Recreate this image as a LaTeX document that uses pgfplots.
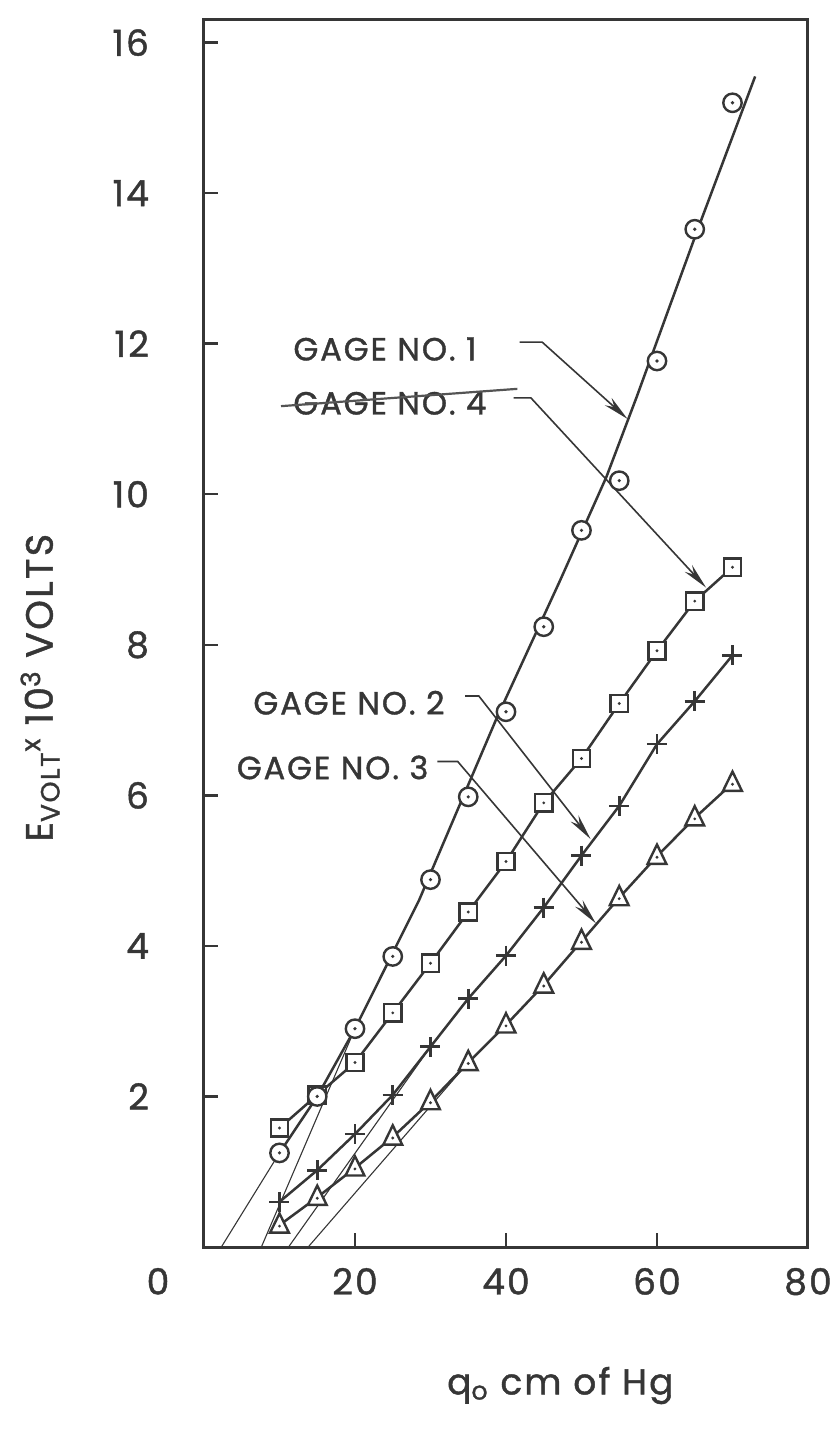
\documentclass[border=0pt]{standalone}
\usepackage{pgfplots}
\pgfplotsset{compat=1.18}
\usetikzlibrary{arrows.meta}
\usepackage{fontspec}
\setmainfont[LetterSpace=6, FakeBold=1.2]{Poppins}
\definecolor{ink}{HTML}{363636}

\pgfdeclareplotmark{odot}{%
  \pgfsetfillcolor{white}%
  \pgfpathcircle{\pgfpointorigin}{\pgfplotmarksize}%
  \pgfusepathqfillstroke
  \pgfsetfillcolor{ink}%
  \pgfpathcircle{\pgfpointorigin}{0.9pt}%
  \pgfusepathqfill}
\pgfdeclareplotmark{sqdot}{%
  \pgfsetfillcolor{white}%
  \pgfpathrectangle{\pgfpoint{-\pgfplotmarksize}{-\pgfplotmarksize}}{\pgfpoint{2\pgfplotmarksize}{2\pgfplotmarksize}}%
  \pgfusepathqfillstroke
  \pgfsetfillcolor{ink}%
  \pgfpathcircle{\pgfpointorigin}{0.8pt}%
  \pgfusepathqfill}
\pgfdeclareplotmark{tridot}{%
  \pgfsetfillcolor{white}%
  \pgfpathmoveto{\pgfpoint{0pt}{1.25\pgfplotmarksize}}%
  \pgfpathlineto{\pgfpoint{-\pgfplotmarksize}{-0.8\pgfplotmarksize}}%
  \pgfpathlineto{\pgfpoint{\pgfplotmarksize}{-0.8\pgfplotmarksize}}%
  \pgfpathclose
  \pgfusepathqfillstroke
  \pgfsetfillcolor{ink}%
  \pgfpathcircle{\pgfpoint{0pt}{-0.1\pgfplotmarksize}}{0.8pt}%
  \pgfusepathqfill}

\pgfplotstableread{
x y
10 1.25
15 2.00
20 2.90
25 3.86
30 4.88
35 5.98
40 7.11
45 8.24
50 9.52
55 10.18
60 11.77
65 13.52
70 15.20
}\gageone
\pgfplotstableread{
x y
10 1.58
15 2.02
20 2.45
25 3.11
30 3.77
35 4.45
40 5.12
45 5.90
50 6.49
55 7.22
60 7.92
65 8.58
70 9.03
}\gagefour
\pgfplotstableread{
x y
10 0.60
15 1.02
20 1.50
25 2.02
30 2.66
35 3.30
40 3.87
45 4.51
50 5.20
55 5.86
60 6.68
65 7.25
70 7.86
}\gagetwo
\pgfplotstableread{
x y
10 0.29
15 0.66
20 1.05
25 1.46
30 1.93
35 2.45
40 2.95
45 3.48
50 4.06
55 4.64
60 5.19
65 5.70
70 6.16
}\gagethree

\newcommand{\labfont}{\fontsize{16}{18}\selectfont}
\newcommand{\tickfont}{\fontsize{18}{20}\selectfont}
\newcommand{\ylabfont}{\fontsize{19}{22}\selectfont}

\begin{document}
\begin{tikzpicture}
\begin{axis}[
  width=302pt, height=613.5pt, scale only axis,
  xmin=0, xmax=80, ymin=0, ymax=16.3,
  clip=false,
  axis line style={ink, line width=1.5pt},
  tick align=inside, xtick pos=bottom, ytick pos=left,
  xtick={20,40,60,80}, ytick={2,4,6,8,10,12,14,16},
  extra x ticks={0},
  extra x tick style={xticklabel style={xshift=-23pt}},
  major tick length=7pt,
  tick style={ink, line width=1.2pt},
  xticklabel style={font=\tickfont, text=ink, yshift=-7pt},
  yticklabel style={font=\tickfont, text=ink, xshift=-24pt},
  /pgf/number format/assume math mode=true,
]
% thin extrapolation lines
\addplot[ink, line width=0.55pt] coordinates {(2.3,0) (10,1.25)};
\addplot[ink, line width=0.55pt] coordinates {(7.6,0) (20,2.9)};
\addplot[ink, line width=0.55pt] coordinates {(11.2,0) (30,2.66)};
\addplot[ink, line width=0.55pt] coordinates {(13.8,0) (35,2.45)};
% gage 1 curve
\addplot[ink, line width=1.25pt] coordinates {(10,1.25) (15,2.0) (20,2.9) (28.5,4.61) (38.7,7.01) (47.1,8.84) (53.3,10.23) (57.3,11.29) (65.4,13.52) (73,15.55)};
% gages 4, 2, 3 with marks
\addplot[ink, line width=1.25pt, mark=sqdot, mark size=4.3pt, mark options={line width=1.2pt, solid}] table {\gagefour};
\addplot[ink, line width=1.25pt, mark=+, mark size=5pt, mark options={line width=1.3pt, solid}] table {\gagetwo};
\addplot[ink, line width=1.25pt, mark=tridot, mark size=4.7pt, mark options={line width=1.2pt, solid}] table {\gagethree};
\addplot[ink, only marks, mark=odot, mark size=4.6pt, mark options={line width=1.2pt, solid}] table {\gageone};

% annotations
\node[anchor=west, text=ink, font=\labfont, inner sep=0pt] at (axis cs:11.8,11.93) {GAGE NO. 1};
\node[anchor=west, text=ink, font=\labfont, inner sep=0pt] at (axis cs:11.8,11.21) {GAGE NO. 4};
\node[anchor=west, text=ink, font=\labfont, inner sep=0pt] at (axis cs:6.5,7.23) {GAGE NO. 2};
\node[anchor=west, text=ink, font=\labfont, inner sep=0pt] at (axis cs:4.3,6.37) {GAGE NO. 3};
\draw[ink!85, line width=1.1pt] (axis cs:10.2,11.17) -- (axis cs:41.5,11.40);
\draw[ink, line width=0.8pt, -{Stealth[length=13pt, width=5pt]}] (axis cs:41.8,12.02) -- (axis cs:44.8,12.02) -- (axis cs:56.1,11.0);
\draw[ink, line width=0.8pt, -{Stealth[length=13pt, width=5pt]}] (axis cs:41.0,11.28) -- (axis cs:43.3,11.28) -- (axis cs:66.5,8.76);
\draw[ink, line width=0.8pt, -{Stealth[length=13pt, width=5pt]}] (axis cs:34.6,7.32) -- (axis cs:36.4,7.32) -- (axis cs:51.2,5.42);
\draw[ink, line width=0.8pt, -{Stealth[length=13pt, width=5pt]}] (axis cs:30.9,6.45) -- (axis cs:33.6,6.45) -- (axis cs:51.9,4.30);
% axis labels
\node[rotate=90, text=ink, font=\ylabfont] at (axis cs:-21.7,7.43) {E\textsubscript{VOLT}\textsuperscript{x} 10\textsuperscript{3} VOLTS};
\node[text=ink, font=\tickfont] at (axis cs:47.2,-1.84) {q\textsubscript{o} cm of Hg};
\end{axis}
\pgfresetboundingbox
\path[use as bounding box] ([xshift=-102pt, yshift=-98.5pt]current axis.south west) rectangle ([xshift=14pt, yshift=10pt]current axis.north east);
\end{tikzpicture}
\end{document}
